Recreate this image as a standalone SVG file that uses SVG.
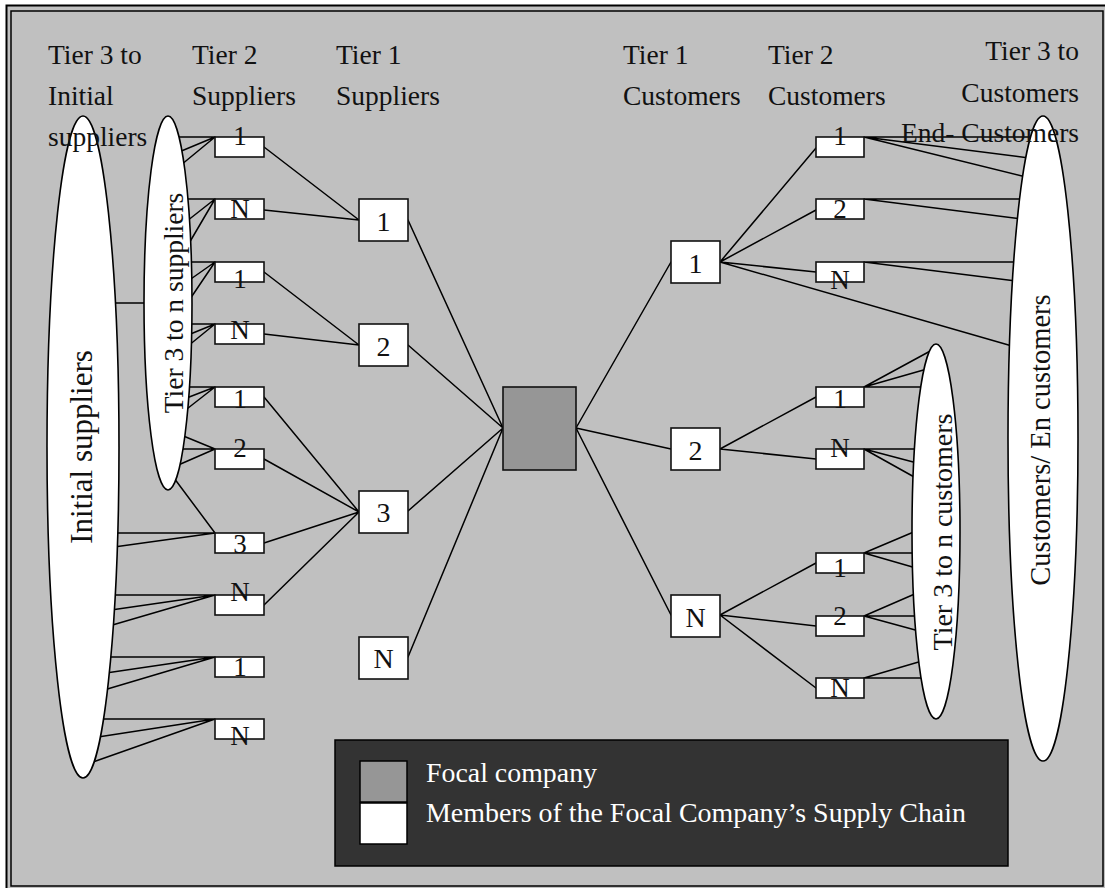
<svg xmlns="http://www.w3.org/2000/svg" width="1105" height="888" viewBox="0 0 1105 888">
  <style>
    .frame { fill: #c0c0c0; stroke: #000; }
    .ln { stroke: #000; stroke-width: 1.5; fill: none; stroke-linecap: round; }
    .box { fill: #fff; stroke: #111; stroke-width: 1.6; }
    .focal { fill: #969696; stroke: #111; stroke-width: 1.6; }
    .oval { fill: #fff; stroke: #000; stroke-width: 1.6; }
    .t { font-family: "Liberation Serif", "Times New Roman", serif; fill: #111; }
    .hd { font-size: 27.5px; }
    .lb { font-size: 27px; text-anchor: middle; }
    .lb1 { font-size: 28px; text-anchor: middle; }
    .vt { text-anchor: middle; }
    .lg { font-family: "Liberation Serif", "Times New Roman", serif; font-size: 27.5px; fill: #fff; }
  </style>

  <!-- page and double frame -->
  <rect width="1105" height="888" fill="#fff"/>
  <rect class="frame" x="6.5" y="5.5" width="1110" height="895" stroke-width="2"/>
  <rect class="frame" x="11" y="11" width="1092" height="875" stroke-width="1.5"/>

  <!-- connectors -->
  <g id="connectors">
    <!-- initial suppliers to tier 3 ellipse -->
    <line class="ln" x1="115" y1="303" x2="147" y2="303"/>
    <!-- tier 3..n suppliers to tier 2 suppliers -->
    <path class="ln" d="M215,137 L175,137 M215,137 L179,152 M215,137 L181,165"/>
    <path class="ln" d="M215,199 L185,199 M215,199 L187,221 M215,199 L188,245"/>
    <path class="ln" d="M215,262 L188,262 M215,262 L188,281 M215,262 L188,302"/>
    <path class="ln" d="M215,324 L188,324 M215,324 L188,335 M215,324 L188,346"/>
    <path class="ln" d="M215,387 L186,387 M215,387 L184,399 M215,387 L183,412"/>
    <path class="ln" d="M215,449 L181,435 M215,449 L179,449 M215,449 L176,466"/>
    <path class="ln" d="M215,533 L174,478 M215,533 L114,533 M215,533 L114,547"/>
    <path class="ln" d="M215,595 L112,595 M215,595 L111,610 M215,595 L109,626"/>
    <path class="ln" d="M215,657 L108,657 M215,657 L106,673 M215,657 L104,690"/>
    <path class="ln" d="M215,719 L101,719 M215,719 L98,737 M215,719 L93,762"/>
    <!-- tier 2 suppliers to tier 1 suppliers -->
    <path class="ln" d="M264,147 L359,220 M264,210 L359,220"/>
    <path class="ln" d="M264,272 L359,345 M264,334 L359,345"/>
    <path class="ln" d="M264,397 L359,512 M264,459 L359,512 M264,543 L359,512 M264,605 L359,512"/>
    <!-- tier 1 suppliers to focal company -->
    <path class="ln" d="M408,220 L503,428 M408,345 L503,428 M408,511 L503,428 M408,657 L503,428"/>
    <!-- focal company to tier 1 customers -->
    <path class="ln" d="M576,428 L671,262 M576,428 L671,449 M576,428 L671,615"/>
    <!-- tier 1 customers to tier 2 customers -->
    <path class="ln" d="M720,262 L816,148 M720,262 L816,210 M720,262 L816,272 M720,262 L1012,346"/>
    <path class="ln" d="M720,449 L816,397 M720,449 L816,459"/>
    <path class="ln" d="M720,615 L816,563 M720,615 L816,626 M720,615 L816,688"/>
    <!-- tier 2 customers to end customers -->
    <path class="ln" d="M864,137 L1035,137 M864,137 L1029,158 M864,137 L1026,177"/>
    <path class="ln" d="M864,199 L1022,199 M864,199 L1021,219"/>
    <path class="ln" d="M864,262 L1017,262 M864,262 L1016,281"/>
    <!-- tier 2 customers to tier 3..n customers -->
    <path class="ln" d="M864,387 L934,349 M864,387 L927,369 M864,387 L924,387"/>
    <path class="ln" d="M864,449 L917,449 M864,449 L917,463 M864,449 L916,478"/>
    <path class="ln" d="M864,553 L916,531 M864,553 L916,553 M864,553 L916,568"/>
    <path class="ln" d="M864,616 L917,593 M864,616 L917,616 M864,616 L919,631"/>
    <path class="ln" d="M864,678 L922,661 M864,678 L924,678"/>
  </g>

  <!-- aggregate ellipses -->
  <g id="initial-suppliers">
    <ellipse class="oval" cx="83" cy="447" rx="36" ry="331"/>
    <text class="t vt" font-size="31" transform="translate(92,447) rotate(-90)">Initial suppliers</text>
  </g>
  <g id="tier3-suppliers">
    <ellipse class="oval" cx="168" cy="303" rx="24" ry="187"/>
    <text class="t vt" font-size="27.5" transform="translate(183,303) rotate(-90)">Tier 3 to n suppliers</text>
  </g>
  <g id="tier3-customers">
    <ellipse class="oval" cx="936" cy="531.5" rx="24" ry="187.5"/>
    <text class="t vt" font-size="28" transform="translate(952,532) rotate(-90)">Tier 3 to n customers</text>
  </g>
  <g id="end-customers">
    <ellipse class="oval" cx="1043" cy="438.5" rx="35" ry="322.5"/>
    <text class="t vt" font-size="28.5" transform="translate(1050,440) rotate(-90)">Customers/ En customers</text>
  </g>

  <!-- tier 2 suppliers -->
  <g id="s2-1a"><rect class="box" x="215" y="137" width="49" height="20"/><text class="t lb" x="240" y="145">1</text></g>
  <g id="s2-na"><rect class="box" x="215" y="199" width="49" height="20"/><text class="t lb" x="240" y="218">N</text></g>
  <g id="s2-1b"><rect class="box" x="215" y="262" width="49" height="20"/><text class="t lb" x="240" y="288">1</text></g>
  <g id="s2-nb"><rect class="box" x="215" y="324" width="49" height="20"/><text class="t lb" x="240" y="339">N</text></g>
  <g id="s2-1c"><rect class="box" x="215" y="387" width="49" height="20"/><text class="t lb" x="240" y="408">1</text></g>
  <g id="s2-2c"><rect class="box" x="215" y="449" width="49" height="20"/><text class="t lb" x="240" y="457">2</text></g>
  <g id="s2-3c"><rect class="box" x="215" y="533" width="49" height="20"/><text class="t lb" x="240" y="553">3</text></g>
  <g id="s2-nc"><rect class="box" x="215" y="595" width="49" height="20"/><text class="t lb" x="240" y="601">N</text></g>
  <g id="s2-1d"><rect class="box" x="215" y="657" width="49" height="20"/><text class="t lb" x="240" y="676">1</text></g>
  <g id="s2-nd"><rect class="box" x="215" y="719" width="49" height="20"/><text class="t lb" x="240" y="745">N</text></g>

  <!-- tier 1 suppliers -->
  <g id="s1-1"><rect class="box" x="359" y="199" width="49" height="42"/><text class="t lb1" x="383.5" y="231">1</text></g>
  <g id="s1-2"><rect class="box" x="359" y="324" width="49" height="42"/><text class="t lb1" x="383.5" y="356">2</text></g>
  <g id="s1-3"><rect class="box" x="359" y="491" width="49" height="42"/><text class="t lb1" x="383.5" y="522">3</text></g>
  <g id="s1-n"><rect class="box" x="359" y="637" width="49" height="42"/><text class="t lb1" x="383.5" y="668">N</text></g>

  <!-- focal company -->
  <g id="focal"><rect class="focal" x="503" y="387" width="73" height="83"/></g>

  <!-- tier 1 customers -->
  <g id="c1-1"><rect class="box" x="671" y="241" width="49" height="42"/><text class="t lb1" x="695.5" y="273">1</text></g>
  <g id="c1-2"><rect class="box" x="671" y="428" width="49" height="42"/><text class="t lb1" x="695.5" y="460">2</text></g>
  <g id="c1-n"><rect class="box" x="671" y="595" width="49" height="42"/><text class="t lb1" x="695.5" y="627">N</text></g>

  <!-- tier 2 customers -->
  <g id="c2-1a"><rect class="box" x="816" y="137" width="48" height="20"/><text class="t lb" x="840" y="145">1</text></g>
  <g id="c2-2a"><rect class="box" x="816" y="199" width="48" height="20"/><text class="t lb" x="840" y="218">2</text></g>
  <g id="c2-na"><rect class="box" x="816" y="262" width="48" height="20"/><text class="t lb" x="840" y="289">N</text></g>
  <g id="c2-1b"><rect class="box" x="816" y="387" width="48" height="20"/><text class="t lb" x="840" y="408">1</text></g>
  <g id="c2-nb"><rect class="box" x="816" y="449" width="48" height="20"/><text class="t lb" x="840" y="457">N</text></g>
  <g id="c2-1c"><rect class="box" x="816" y="553" width="48" height="20"/><text class="t lb" x="840" y="577">1</text></g>
  <g id="c2-2c"><rect class="box" x="816" y="616" width="48" height="20"/><text class="t lb" x="840" y="625">2</text></g>
  <g id="c2-nc"><rect class="box" x="816" y="678" width="48" height="20"/><text class="t lb" x="840" y="697">N</text></g>

  <!-- column headings -->
  <g id="headings" class="t hd">
    <text x="48" y="64">Tier 3 to</text>
    <text x="48" y="105">Initial</text>
    <text x="48" y="146">suppliers</text>
    <text x="192" y="64">Tier 2</text>
    <text x="192" y="105">Suppliers</text>
    <text x="336" y="64">Tier 1</text>
    <text x="336" y="105">Suppliers</text>
    <text x="623" y="64">Tier 1</text>
    <text x="623" y="105">Customers</text>
    <text x="768" y="64">Tier 2</text>
    <text x="768" y="105">Customers</text>
    <text x="1079" y="60" text-anchor="end">Tier 3 to</text>
    <text x="1079" y="102" text-anchor="end">Customers</text>
    <text x="1079" y="142" text-anchor="end">End- Customers</text>
  </g>

  <!-- legend -->
  <g id="legend">
    <rect x="335" y="740" width="673" height="126" fill="#333" stroke="#000" stroke-width="1.5"/>
    <rect x="360" y="761" width="47" height="41" fill="#969696" stroke="#000" stroke-width="1.5"/>
    <rect x="360" y="803" width="47" height="41" fill="#fff" stroke="#000" stroke-width="1.5"/>
    <text class="lg" x="426" y="782" textLength="171" lengthAdjust="spacingAndGlyphs">Focal company</text>
    <text class="lg" x="426" y="822" textLength="540" lengthAdjust="spacingAndGlyphs">Members of the Focal Company’s Supply Chain</text>
  </g>
</svg>
